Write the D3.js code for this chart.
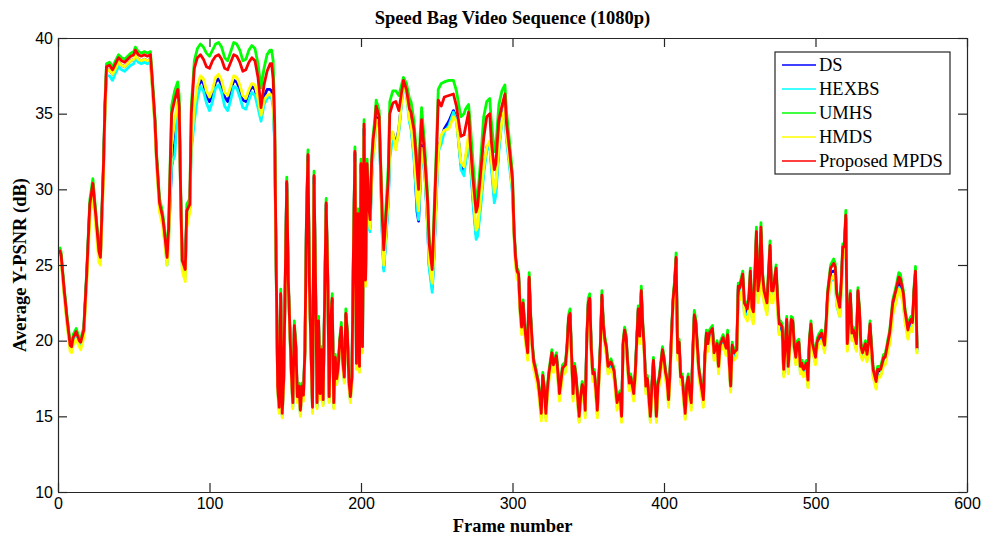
<!DOCTYPE html>
<html>
<head>
<meta charset="utf-8">
<script src="https://cdn.jsdelivr.net/npm/d3@7"></script>
<style>
  body { margin: 0; background: #fff; }
  svg { display: block; }
</style>
</head>
<body>
<div id="chart-area"></div>
<script>
const SVG_WIDTH = 981;
const SVG_HEIGHT = 538;
const margin = { left: 58, right: 14, top: 38, bottom: 46 };

const seriesNames = ["DS", "HEXBS", "UMHS", "HMDS", "Proposed MPDS"];
const seriesColors = ["#0000ff", "#00ffff", "#00ff00", "#ffff00", "#ff0000"];
const xTicks = [0, 100, 200, 300, 400, 500, 600];
const yTicks = [10, 15, 20, 25, 30, 35, 40];

const frames = [
  1,2,4,6,8,9,10,12,14,15,
  17,19,21,23,25,27,28,30,31,32,
  34,36,38,40,42,44,46,48,50,51,
  53,55,57,59,61,62,64,65,67,69,
  70,72,73,75,77,79,80,81,82,84,
  85,87,88,90,92,94,96,98,100,102,
  104,106,108,110,112,114,116,118,120,122,
  124,126,128,130,132,134,136,138,140,141,
  142,143,144,145,146,147,148,149,150,151,
  152,153,154,155,156,157,158,159,160,161,
  162,163,164,165,166,167,168,169,170,171,
  172,173,174,175,176,177,178,179,180,181,
  182,183,184,185,186,187,188,189,190,191,
  192,193,194,195,196,197,198,199,200,201,
  202,203,204,205,206,207,208,209,210,212,
  214,215,216,218,219,221,223,225,228,230,
  232,233,235,237,238,239,240,242,244,245,
  247,248,250,251,253,255,258,261,263,265,
  266,268,269,271,272,274,276,277,279,281,
  283,285,286,288,289,291,293,295,296,298,
  300,301,302,303,304,305,306,307,308,309,
  310,311,312,313,314,315,317,318,319,320,
  321,322,323,324,326,327,329,330,331,332,
  333,335,336,337,338,339,340,341,342,344,
  345,346,347,348,349,350,351,352,353,354,
  355,356,357,358,359,360,361,362,363,365,
  366,367,368,369,370,371,372,373,374,375,
  376,377,378,380,381,382,383,384,385,386,
  387,388,389,391,392,393,394,395,396,397,
  399,400,401,402,403,404,405,406,407,408,
  409,410,411,412,414,415,416,417,418,419,
  420,421,423,424,426,427,428,429,430,432,
  433,435,436,437,439,441,442,444,445,446,
  448,449,450,452,453,454,455,456,457,458,
  459,460,461,462,463,464,465,466,468,469,
  470,471,472,474,475,476,477,478,479,480,
  481,482,484,485,486,487,488,489,490,491,
  492,494,495,496,497,498,500,501,502,504,
  505,506,507,508,510,512,513,514,516,517,
  518,519,520,521,522,523,524,525,527,528,
  529,530,531,533,534,535,536,537,538,540,
  541,543,545,546,548,549,551,553,555,556,
  558,559,561,562,563,564,565,566,567
];

const dsPsnr = [
  25.9,25.6,23.3,21.3,19.6,19.5,20.1,20.5,19.9,19.8,
  20.6,24.4,28.9,30.3,28.1,25.8,25.4,31.3,35.3,37.8,
  37.9,37.6,38.0,38.4,38.2,38.1,38.3,38.5,38.6,38.9,
  38.6,38.5,38.6,38.5,38.6,37.3,34.4,32.1,29.0,28.1,
  27.3,25.4,27.0,31.5,33.0,35.5,35.2,29.4,25.2,24.5,
  28.4,28.8,33.5,35.0,36.5,37.2,37.0,36.2,35.8,36.3,
  37.1,37.3,36.9,36.1,35.8,36.5,37.2,37.1,36.6,35.9,
  35.8,36.4,36.8,36.6,35.8,34.8,36.1,36.6,36.6,36.5,
  35.8,33.3,24.8,16.9,15.5,23.0,15.1,17.4,23.9,30.4,
  23.9,20.8,17.9,15.8,20.9,19.5,16.2,16.9,15.3,16.9,
  16.3,19.3,27.9,32.2,23.5,19.3,15.5,30.8,23.7,15.8,
  21.2,16.4,19.3,16.0,22.6,29.0,24.3,16.2,21.3,22.7,
  15.8,18.8,17.4,18.2,19.9,20.8,18.5,17.5,21.7,20.4,
  17.3,16.2,17.5,25.7,32.4,18.4,28.3,18.2,31.6,19.5,
  34.0,23.8,31.0,28.0,27.5,30.8,32.6,33.4,34.8,34.5,
  27.3,24.8,26.2,29.3,32.5,33.7,33.0,34.0,37.1,36.4,
  34.8,34.2,32.3,28.5,27.9,30.2,32.9,31.4,27.6,25.0,
  23.5,25.3,30.3,32.7,33.4,34.0,34.5,35.2,34.7,32.6,
  31.6,31.2,32.0,33.3,32.2,29.3,27.0,27.2,29.2,31.3,
  32.8,33.0,31.8,29.5,30.0,32.8,34.7,35.6,33.5,31.8,
  30.0,27.2,25.4,24.5,24.3,22.1,20.8,22.4,20.9,19.9,
  19.1,24.1,21.5,19.7,18.5,18.1,17.1,16.2,15.1,17.6,
  16.7,15.1,16.6,17.7,19.1,18.3,18.9,17.7,16.4,17.2,
  18.1,18.3,19.5,21.4,21.7,18.9,16.4,18.2,17.4,14.9,
  16.2,17.0,16.7,15.3,19.9,22.4,22.7,19.4,17.7,17.8,
  16.7,15.3,17.4,19.6,22.9,20.9,19.9,19.4,18.2,18.5,
  18.2,17.9,16.9,15.8,16.2,16.4,14.9,19.7,20.6,20.1,
  18.4,17.1,17.5,16.4,17.7,19.9,22.0,20.2,23.2,20.9,
  19.3,16.9,17.4,14.9,16.9,18.6,16.9,14.9,17.0,17.5,
  19.3,18.7,17.8,17.3,16.0,17.9,20.4,22.6,23.7,25.4,
  19.1,19.8,17.5,17.5,15.1,16.9,17.5,16.4,15.8,19.1,
  21.6,21.1,18.0,17.3,16.0,18.9,20.4,19.7,20.4,20.7,
  19.1,19.7,18.2,19.6,20.1,19.4,20.3,16.9,19.6,19.1,
  19.3,23.4,23.3,24.1,22.2,22.0,21.8,22.5,24.2,21.9,
  21.6,24.0,26.9,23.0,23.6,27.1,24.0,23.0,22.2,24.1,
  26.0,23.0,23.0,24.5,22.4,20.8,20.8,20.6,17.8,19.4,
  21.3,18.2,21.3,21.2,19.5,18.8,19.7,19.8,18.2,18.4,
  18.0,18.4,17.3,19.9,21.0,19.7,18.8,19.8,20.1,20.4,
  20.0,19.6,21.0,23.0,24.5,24.6,24.5,22.8,22.0,23.6,
  26.0,26.0,28.1,19.7,21.3,23.0,20.4,20.6,19.7,23.2,
  21.9,19.5,19.1,19.7,19.0,19.7,21.0,19.4,18.0,17.2,
  18.0,18.0,18.8,18.8,19.9,20.3,22.2,23.0,23.9,23.8,
  22.9,21.8,20.6,21.1,21.3,21.1,23.2,24.5,19.4
];

const hexbsPsnr = [
  25.8,25.5,23.2,21.2,19.5,19.4,20.0,20.4,19.8,19.7,
  20.5,24.2,28.6,30.1,27.8,25.6,25.3,31.0,35.0,37.5,
  37.5,37.2,37.7,38.1,37.9,37.8,38.0,38.2,38.3,38.7,
  38.4,38.3,38.4,38.3,38.4,37.1,34.2,31.9,28.8,27.9,
  27.0,25.0,26.5,31.7,32.2,35.2,35.0,29.2,24.9,24.2,
  28.0,28.6,32.5,34.5,36.0,36.8,36.5,35.7,35.2,35.8,
  36.7,36.9,36.4,35.5,35.2,35.9,36.8,36.7,36.1,35.4,
  35.3,35.9,36.4,36.2,35.4,34.5,35.6,36.0,36.1,36.0,
  35.5,33.0,24.6,16.8,15.4,22.8,15.0,17.3,23.7,30.1,
  23.7,20.6,17.7,15.6,20.7,19.3,16.0,16.7,15.1,16.7,
  16.1,19.1,27.7,32.0,23.3,19.1,15.3,30.6,23.5,15.6,
  21.0,16.2,19.1,15.8,22.4,28.8,24.1,16.0,21.1,22.5,
  15.6,18.6,17.2,18.0,19.7,20.6,18.3,17.3,21.5,20.2,
  17.1,16.0,17.3,25.4,32.1,18.2,27.9,18.0,31.2,19.3,
  33.8,23.6,30.6,27.5,27.2,30.4,32.2,33.0,34.5,34.3,
  27.0,24.6,26.0,29.0,32.0,33.5,32.8,33.8,37.0,36.2,
  34.4,34.0,32.0,28.8,28.0,30.0,32.7,31.2,27.4,24.8,
  23.2,25.0,30.0,32.5,33.0,33.8,34.2,35.1,34.6,32.5,
  31.3,30.9,31.8,33.1,32.0,29.0,26.7,26.9,28.8,31.0,
  32.6,32.8,31.5,29.1,29.6,32.5,34.5,35.3,33.3,31.5,
  29.7,27.0,25.2,24.3,24.1,21.9,20.6,22.2,20.7,19.7,
  18.9,23.9,21.3,19.5,18.3,17.9,16.9,16.0,14.9,17.4,
  16.5,14.9,16.4,17.5,18.9,18.1,18.7,17.5,16.2,17.0,
  17.9,18.1,19.3,21.2,21.5,18.7,16.2,18.0,17.2,14.7,
  16.0,16.8,16.5,15.1,19.7,22.2,22.5,19.2,17.5,17.6,
  16.5,15.1,17.2,19.4,22.7,20.7,19.7,19.2,18.0,18.3,
  18.0,17.7,16.7,15.6,16.0,16.2,14.7,19.5,20.4,19.9,
  18.2,16.9,17.3,16.2,17.5,19.7,21.8,20.0,23.0,20.7,
  19.1,16.7,17.2,14.7,16.7,18.4,16.7,14.7,16.8,17.3,
  19.1,18.5,17.6,17.1,15.8,17.7,20.2,22.4,23.5,25.2,
  18.9,19.6,17.3,17.3,14.9,16.7,17.3,16.2,15.6,18.9,
  21.4,20.9,17.8,17.1,15.8,18.7,20.2,19.5,20.2,20.5,
  18.9,19.5,18.0,19.4,19.9,19.2,20.1,16.7,19.4,18.9,
  19.0,23.0,22.9,23.7,21.9,21.7,21.5,22.2,23.9,21.6,
  21.3,23.7,26.6,22.7,23.3,26.9,23.7,22.7,21.9,23.8,
  25.7,22.7,22.7,24.1,22.1,20.5,20.6,20.4,17.7,19.2,
  21.0,17.9,21.0,21.0,19.2,18.5,19.4,19.5,17.9,18.1,
  17.7,18.1,17.0,19.6,20.7,19.4,18.5,19.5,19.8,20.1,
  19.7,19.3,20.6,22.5,24.0,24.0,24.0,22.3,21.6,23.0,
  25.6,25.6,27.8,19.4,20.9,22.6,20.1,20.2,19.4,22.8,
  21.5,19.1,18.8,19.4,18.7,19.4,20.6,19.1,17.7,16.9,
  17.7,17.7,18.5,18.5,19.5,19.9,21.8,22.6,23.5,23.4,
  22.4,21.4,20.2,20.7,20.9,20.7,22.8,24.1,19.2
];

const umhsPsnr = [
  26.2,25.9,23.6,21.6,19.9,19.8,20.4,20.8,20.2,20.1,
  20.9,24.7,29.3,30.7,28.5,26.1,25.7,31.8,35.8,38.3,
  38.4,38.1,38.5,38.9,38.7,38.6,38.8,39.0,39.1,39.4,
  39.1,39.0,39.1,39.0,39.1,37.8,34.8,32.5,29.4,28.5,
  27.7,25.8,27.7,35.5,36.5,37.1,36.2,30.0,25.6,25.0,
  29.0,29.4,35.5,38.5,39.3,39.6,39.4,39.0,38.8,39.2,
  39.6,39.7,39.4,38.7,38.5,39.1,39.7,39.6,39.2,38.5,
  38.6,39.2,39.5,39.3,38.3,36.7,38.0,38.9,39.2,39.2,
  38.5,35.0,25.3,17.2,15.8,23.4,15.4,17.7,24.3,30.8,
  24.2,21.1,18.2,16.1,21.3,19.8,16.5,17.2,15.6,17.2,
  16.6,19.6,28.3,32.6,23.8,19.6,15.8,31.2,24.0,16.1,
  21.6,16.7,19.6,16.3,23.0,29.4,24.6,16.5,21.6,23.1,
  16.1,19.1,17.7,18.5,20.2,21.2,18.8,17.8,22.1,20.7,
  17.6,16.5,17.8,26.1,32.8,18.7,28.7,18.5,32.0,19.8,
  34.6,24.3,32.0,29.3,28.3,32.0,33.6,34.5,35.9,35.2,
  28.5,26.3,28.0,31.5,35.8,36.5,36.5,36.2,37.4,37.0,
  36.0,35.8,34.5,31.8,30.5,33.5,35.4,33.0,29.6,26.8,
  25.0,27.8,33.5,36.6,37.0,37.1,37.2,37.2,36.5,35.3,
  34.8,35.0,35.3,35.6,34.5,31.7,29.3,29.5,32.0,34.8,
  35.8,36.0,34.5,32.5,32.8,35.6,36.5,36.9,35.2,33.2,
  31.0,27.5,25.7,24.8,24.6,22.4,21.1,22.7,21.2,20.2,
  19.4,24.5,21.8,20.0,18.8,18.4,17.4,16.5,15.4,17.9,
  17.0,15.4,16.9,18.0,19.4,18.6,19.2,18.0,16.7,17.5,
  18.4,18.6,19.8,21.7,22.1,19.2,16.7,18.5,17.7,15.2,
  16.5,17.3,17.0,15.6,20.2,22.8,23.1,19.7,18.0,18.1,
  17.0,15.6,17.7,19.9,23.3,21.2,20.2,19.7,18.5,18.8,
  18.5,18.2,17.2,16.1,16.5,16.7,15.2,20.0,20.9,20.4,
  18.7,17.4,17.8,16.7,18.0,20.2,22.3,20.5,23.6,21.2,
  19.6,17.2,17.7,15.2,17.2,18.9,17.2,15.2,17.3,17.8,
  19.6,19.0,18.1,17.6,16.3,18.2,20.7,22.9,24.0,25.8,
  19.4,20.1,17.8,17.8,15.4,17.2,17.8,16.7,16.1,19.4,
  22.0,21.4,18.3,17.6,16.3,19.2,20.7,20.0,20.7,21.0,
  19.4,20.0,18.5,19.9,20.4,19.7,20.7,17.2,19.9,19.4,
  19.6,23.8,23.7,24.6,22.7,22.5,22.3,23.0,24.8,22.4,
  22.1,24.6,27.5,23.5,24.2,27.8,24.6,23.5,22.7,24.7,
  26.6,23.5,23.5,25.0,22.9,21.3,21.3,21.1,18.3,19.8,
  21.6,18.5,21.6,21.5,19.8,19.1,20.0,20.1,18.5,18.7,
  18.3,18.7,17.6,20.2,21.3,20.0,19.1,20.1,20.4,20.7,
  20.3,19.9,21.3,23.3,25.0,25.4,25.1,23.3,22.4,24.0,
  26.4,26.4,28.6,20.0,21.6,23.3,20.7,20.9,20.0,23.5,
  22.2,19.8,19.4,20.0,19.3,20.0,21.3,19.7,18.3,17.5,
  18.3,18.3,19.1,19.1,20.2,20.7,22.7,23.5,24.5,24.4,
  23.3,22.2,20.9,21.4,21.6,21.4,23.5,24.9,19.7
];

const hmdsPsnr = [
  25.6,25.3,23.0,21.0,19.3,19.2,19.7,20.1,19.6,19.4,
  20.2,23.8,28.0,29.8,27.4,25.2,25.0,30.5,34.8,37.8,
  37.9,37.6,38.0,38.4,38.2,38.1,38.3,38.5,38.6,38.9,
  38.6,38.5,38.6,38.5,38.6,37.0,34.0,31.7,28.5,27.6,
  26.8,25.0,26.3,33.0,34.5,35.8,35.0,29.0,24.6,23.9,
  27.5,28.5,33.0,35.5,36.8,37.5,37.3,36.5,36.1,36.6,
  37.4,37.6,37.2,36.4,36.2,36.8,37.5,37.4,36.9,36.2,
  36.0,36.6,37.0,36.9,36.0,34.9,35.9,36.2,36.3,36.2,
  35.8,33.5,24.5,16.6,15.2,22.6,14.9,17.1,23.6,29.8,
  23.6,20.5,17.6,15.5,20.6,19.2,15.9,16.6,15.0,16.6,
  16.0,19.0,27.5,31.8,23.2,19.0,15.2,30.3,23.4,15.5,
  20.9,16.1,19.0,15.7,22.3,28.6,24.0,15.9,21.0,22.4,
  15.5,18.5,17.1,17.9,19.6,20.5,18.2,17.2,21.4,20.1,
  17.0,15.9,17.2,25.3,31.8,18.1,27.8,17.9,31.0,19.2,
  33.5,23.6,30.9,28.2,27.4,30.8,32.3,33.2,34.6,34.5,
  27.5,25.0,26.5,29.5,33.0,33.8,32.6,34.0,37.0,36.3,
  34.6,34.3,32.5,29.5,28.6,30.5,32.7,31.5,27.8,25.3,
  23.8,25.5,30.5,32.5,33.6,33.9,34.0,34.8,34.5,32.7,
  31.8,31.5,32.2,33.6,32.5,29.8,27.3,27.5,29.5,31.5,
  32.8,33.2,32.0,29.8,30.3,33.0,34.5,35.5,33.6,31.9,
  30.0,26.8,25.0,24.1,23.9,21.7,20.4,22.0,20.5,19.5,
  18.7,23.6,21.1,19.3,18.1,17.7,16.7,15.8,14.7,17.2,
  16.3,14.7,16.2,17.3,18.7,17.9,18.5,17.3,16.0,16.8,
  17.7,17.9,19.1,21.0,21.3,18.5,16.0,17.8,17.0,14.6,
  15.8,16.6,16.3,14.9,19.5,22.0,22.3,19.0,17.3,17.4,
  16.3,14.9,17.0,19.2,22.5,20.5,19.5,19.0,17.8,18.1,
  17.8,17.5,16.5,15.4,15.8,16.0,14.6,19.3,20.2,19.7,
  18.0,16.7,17.1,16.0,17.3,19.5,21.6,19.8,22.8,20.5,
  18.9,16.5,17.0,14.6,16.5,18.2,16.5,14.6,16.6,17.1,
  18.9,18.3,17.4,16.9,15.6,17.5,20.0,22.2,23.3,25.0,
  18.7,19.4,17.1,17.1,14.8,16.5,17.1,16.0,15.4,18.7,
  21.2,20.7,17.6,16.9,15.6,18.5,20.0,19.3,20.0,20.3,
  18.7,19.3,17.8,19.2,19.7,19.0,19.9,16.6,19.2,18.7,
  18.9,22.9,22.7,23.5,21.7,21.5,21.3,22.0,23.7,21.4,
  21.1,23.5,26.4,22.5,23.1,26.7,23.5,22.5,21.7,23.6,
  25.5,22.5,22.5,23.9,21.9,20.4,20.5,20.3,17.6,19.1,
  20.9,17.8,20.9,20.8,19.1,18.4,19.3,19.4,17.8,18.0,
  17.6,18.0,16.9,19.5,20.6,19.3,18.4,19.4,19.7,20.0,
  19.6,19.2,20.5,22.4,24.0,24.3,24.1,22.4,21.6,23.1,
  25.5,25.5,27.7,19.3,20.8,22.5,20.0,20.1,19.3,22.7,
  21.4,19.0,18.7,19.3,18.6,19.3,20.5,19.0,17.6,16.8,
  17.6,17.6,18.4,18.4,19.4,19.8,21.7,22.5,23.4,23.3,
  22.3,21.3,20.1,20.6,20.8,20.6,22.6,23.9,19.1
];

const mpdsPsnr = [
  26.0,25.7,23.4,21.4,19.7,19.6,20.2,20.6,20.0,19.9,
  20.7,24.5,29.0,30.4,28.2,25.9,25.5,31.5,35.5,38.1,
  38.2,37.9,38.3,38.7,38.5,38.4,38.6,38.8,38.9,39.2,
  38.9,38.8,38.9,38.8,38.9,37.5,34.5,32.2,29.1,28.2,
  27.4,25.5,27.3,35.0,35.9,36.6,35.5,29.5,25.3,24.7,
  28.6,29.0,35.0,38.0,38.7,38.9,38.6,38.1,38.0,38.5,
  38.8,38.9,38.6,38.0,37.9,38.4,38.9,38.8,38.4,37.8,
  37.9,38.4,38.7,38.5,37.4,35.4,36.9,37.8,38.3,38.3,
  37.3,34.4,25.0,17.0,15.6,23.1,15.2,17.5,24.0,30.5,
  24.0,20.9,18.0,15.9,21.0,19.6,16.3,17.0,15.4,17.0,
  16.4,19.4,28.0,32.3,23.6,19.4,15.6,30.9,23.8,15.9,
  21.3,16.5,19.4,16.1,22.7,29.1,24.4,16.3,21.4,22.8,
  15.9,18.9,17.5,18.3,20.0,20.9,18.6,17.6,21.8,20.5,
  17.4,16.3,17.6,25.8,32.5,18.5,28.4,18.3,31.7,19.6,
  34.3,24.0,31.7,29.0,28.0,31.7,33.3,34.1,35.5,34.8,
  28.2,26.0,27.5,30.6,35.0,35.7,35.8,35.2,37.2,36.6,
  35.3,35.1,33.9,31.3,30.0,32.8,34.6,32.2,29.1,26.4,
  24.7,27.3,32.8,35.9,35.5,36.1,36.2,36.3,35.5,34.1,
  33.5,33.6,34.1,35.1,33.2,30.6,28.5,28.9,31.1,33.4,
  34.8,35.0,33.2,31.3,31.7,34.6,35.5,36.3,34.4,32.6,
  30.6,27.3,25.5,24.6,24.4,22.2,20.9,22.5,21.0,20.0,
  19.2,24.2,21.6,19.8,18.6,18.2,17.2,16.3,15.2,17.7,
  16.8,15.2,16.7,17.8,19.2,18.4,19.0,17.8,16.5,17.3,
  18.2,18.4,19.6,21.5,21.8,19.0,16.5,18.3,17.5,15.0,
  16.3,17.1,16.8,15.4,20.0,22.5,22.8,19.5,17.8,17.9,
  16.8,15.4,17.5,19.7,23.0,21.0,20.0,19.5,18.3,18.6,
  18.3,18.0,17.0,15.9,16.3,16.5,15.0,19.8,20.7,20.2,
  18.5,17.2,17.6,16.5,17.8,20.0,22.1,20.3,23.3,21.0,
  19.4,17.0,17.5,15.0,17.0,18.7,17.0,15.0,17.1,17.6,
  19.4,18.8,17.9,17.4,16.1,18.0,20.5,22.7,23.8,25.5,
  19.2,19.9,17.6,17.6,15.2,17.0,17.6,16.5,15.9,19.2,
  21.7,21.2,18.1,17.4,16.1,19.0,20.5,19.8,20.5,20.8,
  19.2,19.8,18.3,19.7,20.2,19.5,20.4,17.0,19.7,19.2,
  19.4,23.6,23.5,24.4,22.5,22.3,22.1,22.8,24.6,22.2,
  21.9,24.4,27.2,23.3,24.0,27.5,24.4,23.3,22.5,24.5,
  26.3,23.3,23.3,24.8,22.7,21.1,21.1,20.9,18.1,19.6,
  21.4,18.3,21.4,21.3,19.6,18.9,19.8,19.9,18.3,18.5,
  18.1,18.5,17.4,20.0,21.1,19.8,18.9,19.9,20.2,20.5,
  20.1,19.7,21.1,23.1,24.8,25.1,24.9,23.1,22.2,23.8,
  26.2,26.2,28.3,19.8,21.4,23.1,20.5,20.7,19.8,23.3,
  22.0,19.6,19.2,19.8,19.1,19.8,21.1,19.5,18.1,17.3,
  18.1,18.1,18.9,18.9,20.0,20.5,22.5,23.3,24.2,24.1,
  23.1,22.0,20.7,21.2,21.4,21.2,23.3,24.6,19.5
];

const seriesValues = [dsPsnr, hexbsPsnr, umhsPsnr, hmdsPsnr, mpdsPsnr];

const WIDTH = SVG_WIDTH - margin.left - margin.right;
const HEIGHT = SVG_HEIGHT - margin.top - margin.bottom;

const svg = d3.select("#chart-area").append("svg")
  .attr("width", SVG_WIDTH).attr("height", SVG_HEIGHT);
svg.append("rect").attr("width", SVG_WIDTH).attr("height", SVG_HEIGHT).attr("fill", "#fff");

const group = svg.append("g").attr("transform", `translate(${margin.left},${margin.top})`);

const x = d3.scaleLinear().domain([0, 600]).range([0, WIDTH]);
const y = d3.scaleLinear().domain([10, 40]).range([HEIGHT, 0]);

// lines
const line = d3.line()
  .x((d, i) => x(frames[i]))
  .y(d => y(d));

group.append("defs").append("clipPath").attr("id", "plot-clip")
  .append("rect").attr("width", WIDTH).attr("height", HEIGHT);

const lineGroup = group.append("g").attr("clip-path", "url(#plot-clip)");
seriesValues.forEach((vals, i) => {
  lineGroup.append("path")
    .datum(vals)
    .attr("fill", "none")
    .attr("stroke", seriesColors[i])
    .attr("stroke-width", 2.8)
    .attr("stroke-linejoin", "round")
    .attr("d", line);
});

// axes, matlab style: ticks inward on all four sides
const tickFont = "'Liberation Sans', Arial, sans-serif";
const axisColor = "#262626";

const xAxisGroup = group.append("g").attr("transform", `translate(0,${HEIGHT})`)
  .call(d3.axisBottom(x).tickValues(xTicks).tickSize(-9).tickSizeOuter(0).tickPadding(6));
const yAxisGroup = group.append("g")
  .call(d3.axisLeft(y).tickValues(yTicks).tickSize(-9).tickSizeOuter(0).tickPadding(5));
const topAxis = group.append("g")
  .call(d3.axisTop(x).tickValues(xTicks).tickSize(-9).tickSizeOuter(0).tickFormat(""));
const rightAxis = group.append("g").attr("transform", `translate(${WIDTH},0)`)
  .call(d3.axisRight(y).tickValues(yTicks).tickSize(-9).tickSizeOuter(0).tickFormat(""));

[xAxisGroup, yAxisGroup, topAxis, rightAxis].forEach(g => {
  g.selectAll("path.domain").attr("stroke", axisColor).attr("stroke-width", 1.2);
  g.selectAll(".tick line").attr("stroke", axisColor).attr("stroke-width", 1.2);
  g.selectAll(".tick text")
    .attr("fill", "#000")
    .style("font-family", tickFont)
    .style("font-size", "16px");
});

// title and labels
const serif = "'Liberation Serif', 'Times New Roman', serif";

svg.append("text")
  .attr("x", margin.left + WIDTH / 2)
  .attr("y", 24)
  .attr("text-anchor", "middle")
  .style("font-family", serif)
  .style("font-weight", "bold")
  .style("font-size", "18.5px")
  .text("Speed Bag Video Sequence (1080p)");

svg.append("text")
  .attr("x", margin.left + WIDTH / 2)
  .attr("y", 532)
  .attr("text-anchor", "middle")
  .style("font-family", serif)
  .style("font-weight", "bold")
  .style("font-size", "18.5px")
  .text("Frame number");

svg.append("text")
  .attr("transform", `translate(26,${margin.top + HEIGHT / 2}) rotate(-90)`)
  .attr("text-anchor", "middle")
  .style("font-family", serif)
  .style("font-weight", "bold")
  .style("font-size", "18.5px")
  .text("Average Y-PSNR (dB)");

// legend
const legend = svg.append("g").attr("transform", "translate(775,52)");
legend.append("rect")
  .attr("width", 175).attr("height", 122)
  .attr("fill", "#fff").attr("stroke", axisColor).attr("stroke-width", 1.2);

seriesNames.forEach((name, i) => {
  const row = legend.append("g").attr("transform", `translate(0,${13 + i * 24})`);
  row.append("line")
    .attr("x1", 7).attr("x2", 41)
    .attr("stroke", seriesColors[i]).attr("stroke-width", 1.5);
  row.append("text")
    .attr("x", 44).attr("y", 6)
    .style("font-family", serif)
    .style("font-size", "18.5px")
    .text(name);
});
</script>
</body>
</html>
